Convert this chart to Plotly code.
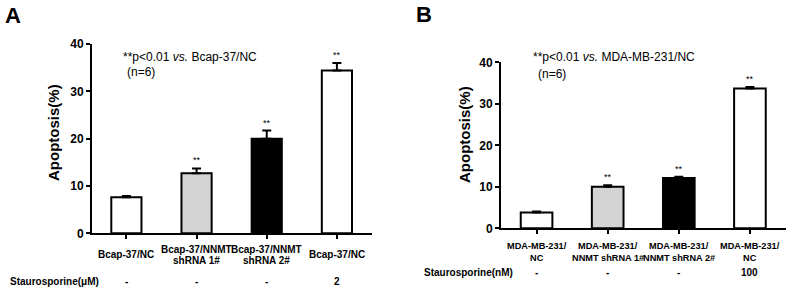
import plotly.graph_objects as go

# ---------------- data ----------------
a_line1 = ["Bcap-37/NC", "Bcap-37/NNMT", "Bcap-37/NNMT", "Bcap-37/NC"]
a_line2 = ["", "shRNA 1#", "shRNA 2#", ""]
a_values = [7.6, 12.7, 20.0, 34.4]
a_errors = [0.3, 1.0, 1.7, 1.6]
a_stauro = ["-", "-", "-", "2"]
a_sig = ["", "**", "**", "**"]

b_line1 = ["MDA-MB-231/", "MDA-MB-231/", "MDA-MB-231/", "MDA-MB-231/"]
b_line2 = ["NC", "NNMT shRNA 1#", "NNMT shRNA 2#", "NC"]
b_values = [3.8, 10.0, 12.1, 33.7]
b_errors = [0.25, 0.35, 0.3, 0.35]
b_stauro = ["-", "-", "-", "100"]
b_sig = ["", "**", "**", "**"]

bar_colors = ["white", "#d4d4d4", "black", "white"]
y_ticks = [0, 10, 20, 30, 40]

FONT = "Arial, Liberation Sans, Helvetica, sans-serif"
W, H = 796, 291

fig = go.Figure()

def add_panel(values, errors, xa, ya, width):
    xs = list(range(len(values)))
    fig.add_trace(go.Bar(
        x=xs, y=values, xaxis=xa, yaxis=ya, width=width,
        marker=dict(color=bar_colors, line=dict(color="black", width=2)),
        error_y=dict(type="data", array=errors, arrayminus=[0] * len(errors),
                     symmetric=False, color="black", thickness=2, width=4.5),
        showlegend=False, hoverinfo="skip",
    ))

add_panel(a_values, a_errors, "x", "y", 0.43)
add_panel(b_values, b_errors, "x2", "y2", 0.445)

axis_common = dict(showline=True, linecolor="black", linewidth=2, ticks="outside",
                   tickcolor="black", tickwidth=2, ticklen=4, showgrid=False,
                   zeroline=False, fixedrange=True)

fig.update_layout(
    width=W, height=H, margin=dict(l=0, r=0, t=0, b=0, autoexpand=False),
    paper_bgcolor="white", plot_bgcolor="white",
    font=dict(family=FONT, color="black"),
    bargap=0,
    xaxis=dict(domain=[92 / W, 372 / W], range=[-0.49, 3.5], tickvals=[0, 1, 2, 3],
               showticklabels=False, anchor="y", **axis_common),
    yaxis=dict(domain=[1 - 233.3 / H, 1 - 44 / H], range=[0, 40], tickvals=y_ticks,
               tickfont=dict(size=12, family=FONT, weight="bold"), anchor="x",
               **axis_common),
    xaxis2=dict(domain=[501 / W, 785.5 / W], range=[-0.5, 3.5], tickvals=[0, 1, 2, 3],
                showticklabels=False, anchor="y2", **axis_common),
    yaxis2=dict(domain=[1 - 228.3 / H, 1 - 62.3 / H], range=[0, 40], tickvals=y_ticks,
                tickfont=dict(size=12, family=FONT, weight="bold"), anchor="x2",
                **axis_common),
)

ann = []

def txt(text, x, y, size, xref="paper", xanchor="center", bold=True, textangle=0,
        yanchor="middle"):
    ann.append(dict(text=text, x=x, y=y, xref=xref, yref="paper", xanchor=xanchor,
                    yanchor=yanchor, showarrow=False, textangle=textangle,
                    font=dict(size=size, family=FONT, color="black",
                              weight="bold" if bold else "normal")))

# panel letters
txt("A", 3 / W, 1 - 15 / H, 22, xanchor="left")
txt("B", 414 / W, 1 - 14 / H, 22, xanchor="left")

# y titles
txt("Apoptosis(%)", 54 / W, 1 - 133 / H, 15, textangle=-90)
txt("Apoptosis(%)", 465 / W, 1 - 134 / H, 15, textangle=-90)

# p-value notes
txt("**p&lt;0.01 <i>vs.</i> Bcap-37/NC", 121 / W, 1 - 57 / H, 12, xanchor="left", bold=False)
txt("(n=6)", 125 / W, 1 - 72 / H, 12, xanchor="left", bold=False)
txt("**p&lt;0.01 <i>vs.</i> MDA-MB-231/NC", 531 / W, 1 - 57 / H, 12, xanchor="left", bold=False)
txt("(n=6)", 536 / W, 1 - 74 / H, 12, xanchor="left", bold=False)

# category labels (panel A)
for i in range(len(a_values)):
    if a_line2[i]:
        txt(a_line1[i], i, 1 - 249.5 / H, 10, xref="x")
        txt(a_line2[i], i, 1 - 260.5 / H, 10, xref="x")
    else:
        txt(a_line1[i], i, 1 - 254 / H, 10, xref="x")
    txt(a_stauro[i], i, 1 - 281 / H, 10, xref="x")
    if a_sig[i]:
        ann.append(dict(text=a_sig[i], x=i, y=a_values[i] + a_errors[i], xref="x", yref="y",
                        yanchor="bottom", showarrow=False, yshift=1,
                        font=dict(size=9, family=FONT, color="black")))

# category labels (panel B)
for i in range(len(b_values)):
    txt(b_line1[i], i, 1 - 246 / H, 9.2, xref="x2")
    txt(b_line2[i], i, 1 - 257.5 / H, 9.2, xref="x2")
    txt(b_stauro[i], i, 1 - 272.5 / H, 10, xref="x2")
    if b_sig[i]:
        ann.append(dict(text=b_sig[i], x=i, y=b_values[i] + b_errors[i], xref="x2", yref="y2",
                        yanchor="bottom", showarrow=False, yshift=1,
                        font=dict(size=9, family=FONT, color="black")))

# Staurosporine row labels
txt("Staurosporine(μM)", 8 / W, 1 - 281 / H, 10, xanchor="left")
txt("Staurosporine(nM)", 422 / W, 1 - 272.5 / H, 10, xanchor="left")

fig.update_layout(annotations=ann)
fig.write_html(
    "out.html",
    config={"displayModeBar": False, "staticPlot": True},
    post_script="document.body.style.margin='0';document.body.style.overflow='hidden';",
)
